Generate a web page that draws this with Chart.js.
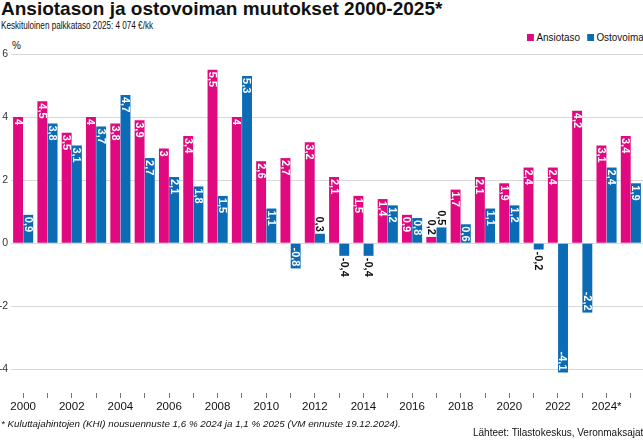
<!DOCTYPE html>
<html>
<head>
<meta charset="utf-8">
<script src="https://cdn.jsdelivr.net/npm/chart.js@4"></script>
<style>
  html, body { margin: 0; padding: 0; background: #fff; }
  body { width: 643px; height: 441px; overflow: hidden; position: relative; font-family: "Liberation Sans", Arial, sans-serif; color: #111; }
  .title { position: absolute; left: 1px; top: -2px; font-size: 19px; font-weight: bold; white-space: nowrap; }
  .subtitle { position: absolute; left: 1px; top: 19px; font-size: 11px; white-space: nowrap; transform: scaleX(0.74); transform-origin: left top; }
  .legend { position: absolute; left: 527px; top: 31px; font-size: 11.5px; white-space: nowrap; transform: scaleX(0.86); transform-origin: left top; }
  .legend span.box { display: inline-block; width: 8px; height: 7px; margin-right: 3px; vertical-align: 0px; }
  .legend span.item { margin-right: 5px; }
  .pct { position: absolute; left: 12px; top: 40px; font-size: 10px; }
  .note { position: absolute; left: 1px; top: 418px; font-size: 9.8px; font-style: italic; white-space: nowrap; }
  .source { position: absolute; left: 473px; top: 426px; font-size: 10.5px; white-space: nowrap; transform: scaleX(0.95); transform-origin: left top; }
  #wrap { position: absolute; left: 0; top: 0; width: 643px; height: 441px; }
</style>
</head>
<body>
<div class="title">Ansiotason ja ostovoiman muutokset 2000-2025*</div>
<div class="subtitle">Keskituloinen palkkataso 2025: 4 074 €/kk</div>
<div class="legend">
  <span class="item"><span class="box" style="background:#e0097f"></span>Ansiotaso</span>
  <span class="item"><span class="box" style="background:#0c6bb5"></span>Ostovoima</span>
</div>
<div class="pct">%</div>
<div id="wrap"><canvas id="chart"></canvas></div>
<div class="note">* Kuluttajahintojen (KHI) nousuennuste 1,6 % 2024 ja 1,1 % 2025 (VM ennuste 19.12.2024).</div>
<div class="source">Lähteet: Tilastokeskus, Veronmaksajat</div>

<script>
// years 2000-2025, only every other one gets a label
const years = ['2000', '2001', '2002', '2003', '2004', '2005', '2006', '2007', '2008', '2009',
  '2010', '2011', '2012', '2013', '2014', '2015', '2016', '2017', '2018', '2019',
  '2020', '2021', '2022', '2023', '2024*', '2025*'];
const ansiotaso = [4, 4.5, 3.5, 4, 3.8, 3.9, 3, 3.4, 5.5, 4, 2.6, 2.7, 3.2, 2.1, 1.5, 1.4, 0.9, 0.2, 1.7, 2.1, 1.9, 2.4, 2.4, 4.2, 3.1, 3.4];
const ostovoima = [0.9, 3.8, 3.1, 3.7, 4.7, 2.7, 2.1, 1.8, 1.5, 5.3, 1.1, -0.8, 0.3, -0.4, -0.4, 1.2, 0.8, 0.5, 0.6, 1.1, 1.2, -0.2, -4.1, -2.2, 2.4, 1.9];
const yTicks = [-4, -2, 0, 2, 4, 6];

const MAGENTA = '#e0097f';
const BLUE = '#0c6bb5';

const fmt = v => String(v).replace('.', ',');

// value labels rotated inside (or just outside) each bar
const barLabels = {
  id: 'barLabels',
  afterDatasetsDraw(chart) {
    const ctx = chart.ctx;
    ctx.save();
    ctx.font = 'bold 11px "Liberation Sans", Arial, sans-serif';
    ctx.textBaseline = 'middle';
    chart.data.datasets.forEach((ds, i) => {
      const meta = chart.getDatasetMeta(i);
      meta.data.forEach((bar, j) => {
        const v = ds.data[j];
        const inside = Math.abs(v) >= 0.6;
        const pad = 2;
        ctx.save();
        ctx.translate(bar.x, bar.y);
        ctx.rotate(Math.PI / 2);
        ctx.fillStyle = inside ? '#fff' : '#111';
        if (v >= 0) {
          ctx.textAlign = inside ? 'left' : 'right';
          ctx.fillText(fmt(v), inside ? pad : -pad, 0.5);
        } else {
          ctx.textAlign = inside ? 'right' : 'left';
          ctx.fillText(fmt(v), inside ? -pad : pad, 0.5);
        }
        ctx.restore();
      });
    });
    ctx.restore();
  }
};

new Chart(document.getElementById('chart'), {
  type: 'bar',
  data: {
    labels: years,
    datasets: [
      { label: 'Ansiotaso', data: ansiotaso, backgroundColor: MAGENTA },
      { label: 'Ostovoima', data: ostovoima, backgroundColor: BLUE }
    ]
  },
  options: {
    responsive: true,
    maintainAspectRatio: false,
    animation: false,
    devicePixelRatio: 1,
    categoryPercentage: 0.84,
    barPercentage: 0.97,
    layout: { padding: { top: 54, bottom: 26, left: 0, right: 0 } },
    plugins: {
      legend: { display: false },
      tooltip: { enabled: false }
    },
    scales: {
      x: {
        grid: { display: true, offset: false, drawOnChartArea: false, tickLength: 5, color: '#777', tickWidth: 1 },
        border: { display: false },
        ticks: {
          autoSkip: false,
          maxRotation: 0,
          padding: 2,
          color: '#111',
          font: { size: 11.5, family: '"Liberation Sans", Arial, sans-serif' },
          callback: (val, idx) => (idx % 2 === 0 ? years[idx] : '')
        },
        afterFit: s => { s.height = 22; }
      },
      y: {
        min: -4.75,
        max: 6,
        afterBuildTicks: s => { s.ticks = yTicks.map(v => ({ value: v })); },
        grid: { color: '#d8d8d8', lineWidth: 1, drawTicks: false },
        border: { display: false },
        ticks: {
          padding: 3,
          color: '#333',
          font: { size: 10.5, family: '"Liberation Sans", Arial, sans-serif' }
        },
        afterFit: s => { s.width = 11; }
      }
    }
  },
  plugins: [barLabels]
});
</script>
</body>
</html>
